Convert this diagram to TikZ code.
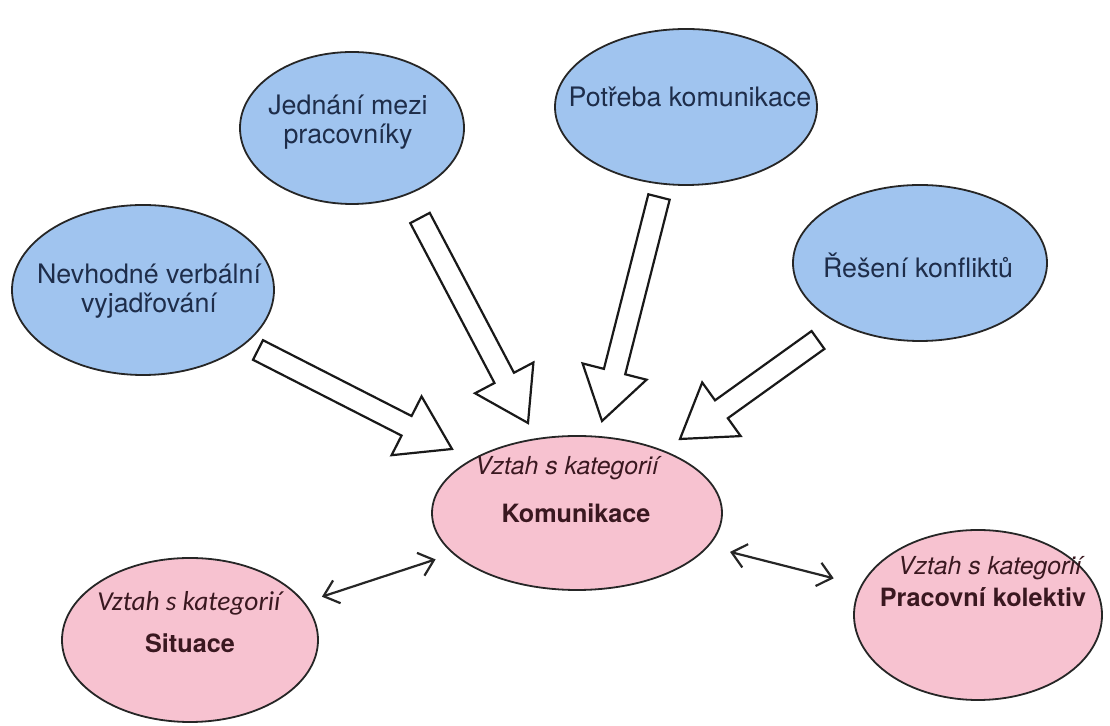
\documentclass[tikz,border=0pt]{standalone}
\usepackage{fontspec}
\setmainfont{TeX Gyre Heros}
\newfontfamily\calibrish{Carlito}
\usetikzlibrary{calc}
\usetikzlibrary{shapes.geometric}
\usetikzlibrary{arrows.meta}
\definecolor{topicblue}{HTML}{A0C4EF}
\definecolor{catpink}{HTML}{F7C2D0}
\definecolor{bluetext}{HTML}{1E2D4A}
\definecolor{pinktext}{HTML}{3A1820}
\newcommand{\hollowarrow}[2]{%
  \coordinate (#1h) at ($(#2)!25.5pt!(#1)$);
  \draw[hollow] ($(#1)!5.5pt!90:(#2)$) -- ($(#1h)!5.5pt!90:(#2)$)
    -- ($(#1h)!16.5pt!90:(#2)$) -- (#2) -- ($(#1h)!16.5pt!-90:(#2)$)
    -- ($(#1h)!5.5pt!-90:(#2)$) -- ($(#1)!5.5pt!-90:(#2)$) -- cycle;}

\begin{document}
\begin{tikzpicture}[x=0.5pt,y=-0.5pt,
    topic/.style={ellipse, draw=black!85, line width=0.9pt, fill=topicblue, inner sep=0pt},
    cat/.style={ellipse, draw=black!85, line width=0.9pt, fill=catpink, inner sep=0pt},
    topictext/.style={text=bluetext, font=\fontsize{13.4}{14.5}\selectfont, align=center},
    cattext/.style={text=pinktext, font=\fontsize{12.6}{15}\selectfont\bfseries},
    catnote/.style={text=pinktext, font=\fontsize{12.4}{15}\selectfont\itshape},
    hollow/.style={draw=black!90, line width=1.1pt, fill=white, line join=miter},
    link/.style={{Straight Barb[length=7pt,width=12pt]}-{Straight Barb[length=7pt,width=12pt]}, line width=1.1pt, black!85}]
        \useasboundingbox (0,0) rectangle (1110,726);
        % topics around
        \node[topic, minimum width=131pt, minimum height=85pt] (nev) at (143,290) {};
        \node[topic, minimum width=112pt, minimum height=76pt] (jed) at (352,128) {};
        \node[topic, minimum width=131pt, minimum height=78pt] (pot) at (686,107) {};
        \node[topic, minimum width=127pt, minimum height=78pt] (res) at (920,263) {};
        \node[topictext] (nevtxt) at (149,291) {Nevhodné verbální\\vyjadřování};
        \node[topictext] (jedtxt) at (348,122) {Jednání mezi\\pracovníky};
        \node[topictext] (pottxt) at (690,97) {Potřeba komunikace};
        \node[topictext] (restxt) at (918,265) {Řešení konfliktů};
        % categories
        \node[cat, minimum width=145pt, minimum height=77pt] (kom) at (577,513) {};
        \node[cat, minimum width=128pt, minimum height=82pt] (sit) at (190,640) {};
        \node[cat, minimum width=124pt, minimum height=85pt] (kol) at (978,615) {};
        \node[catnote] (komnote) at (567,468) {Vztah s kategorií};
        \node[cattext] (komtxt) at (576,513) {Komunikace};
        \node[catnote, font=\calibrish\fontsize{13.7}{16}\selectfont\itshape] (sitnote) at (189,603) {Vztah s kategorií};
        \node[cattext] (sittxt) at (190,643) {Situace};
        \node[catnote] (kolnote) at (990,568) {Vztah s kategorií};
        \node[cattext] (koltxt) at (983,597) {Pracovní kolektiv};
        % block arrows
        \coordinate (nevtail) at (258,350);
        \coordinate (nevtip) at (452,449);
        \coordinate (jedtail) at (420,218);
        \coordinate (jedtip) at (528,423);
        \coordinate (pottail) at (659,197);
        \coordinate (pottip) at (602,421);
        \coordinate (restail) at (818,340);
        \coordinate (restip) at (680,439);
        \hollowarrow{nevtail}{nevtip}
        \hollowarrow{jedtail}{jedtip}
        \hollowarrow{pottail}{pottip}
        \hollowarrow{restail}{restip}
        % relations
        \draw[link, shorten <=9pt, shorten >=9pt] (kom) -- (sit);
        \draw[link, shorten <=11pt, shorten >=14pt] (kom) -- (kol);
    \end{tikzpicture}
\end{document}
